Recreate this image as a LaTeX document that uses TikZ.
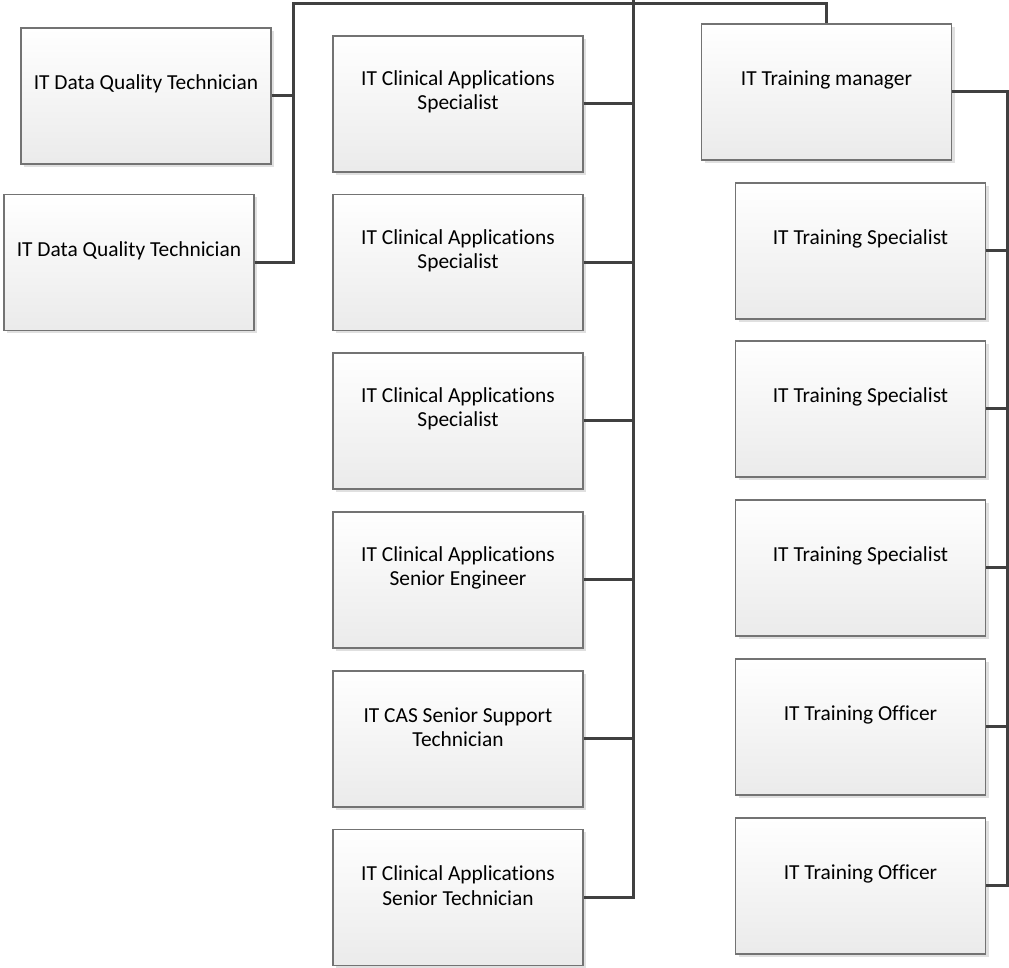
\documentclass[tikz,border=0pt]{standalone}
\usepackage{fontspec}
\setmainfont{Carlito}[Ligatures=NoCommon]
\usepackage{tikz}
\usetikzlibrary{shadows,positioning}

\begin{document}
\begin{tikzpicture}
  [
    x=0.5pt, y=-0.5pt,
    Box/.style={rectangle, draw=black!55, line width=0.6pt, top color=white, bottom color=black!8,
      minimum width=125pt, minimum height=68pt, inner sep=0pt,
      drop shadow={shadow xshift=1.5pt, shadow yshift=-1.5pt, fill=black!12, opacity=1}},
    Txt/.style={align=center, yshift=6pt, font=\fontsize{10.7}{12.2}\selectfont},
    Wire/.style={draw=black!75, line width=1.5pt}
  ]
  \useasboundingbox (0,0) rectangle (1009,968);

  % Nodes
  \node[Box, label={[Txt]center:{IT Data Quality Technician}}] (dq1) at (146, 96) {};
  \node[Box, label={[Txt]center:{IT Data Quality Technician}}] (dq2) at (129, 262.5) {};

  \node[Box, label={[Txt]center:{IT Clinical Applications\\Specialist}}] (cas1) at (458, 104) {};
  \node[Box, label={[Txt]center:{IT Clinical Applications\\Specialist}}] (cas2) at (458, 262.5) {};
  \node[Box, label={[Txt]center:{IT Clinical Applications\\Specialist}}] (cas3) at (458, 421) {};
  \node[Box, label={[Txt]center:{IT Clinical Applications\\Senior Engineer}}] (cas4) at (458, 580) {};
  \node[Box, label={[Txt]center:{IT CAS Senior Support\\Technician}}] (cas5) at (458, 739) {};
  \node[Box, label={[Txt]center:{IT Clinical Applications\\Senior Technician}}] (cas6) at (458, 897.5) {};

  \node[Box, label={[Txt]center:{IT Training manager}}] (tm) at (826.5, 92) {};
  \node[Box, label={[Txt]center:{IT Training Specialist}}] (ts1) at (860.5, 251) {};
  \node[Box, label={[Txt]center:{IT Training Specialist}}] (ts2) at (860.5, 409) {};
  \node[Box, label={[Txt]center:{IT Training Specialist}}] (ts3) at (860.5, 568) {};
  \node[Box, label={[Txt]center:{IT Training Officer}}] (to1) at (860.5, 727) {};
  \node[Box, label={[Txt]center:{IT Training Officer}}] (to2) at (860.5, 886) {};

  % Connectors
  \coordinate (root) at (633, 0);
  \coordinate (bus) at (293, 4);
  \coordinate (rbus) at (1007, 92);

  \draw[Wire] (root) -- (root |- cas6.east) -- (cas6.east);
  \foreach \n in {cas1,cas2,cas3,cas4,cas5}
    \draw[Wire] (\n.east) -- (\n.east -| root);

  \draw[Wire] (dq2.east) -| (bus) -| (tm.north);
  \draw[Wire] (dq1.east) -- (dq1.east -| bus);

  \draw[Wire] (tm.east) -- (rbus) |- (to2.east);
  \foreach \n in {ts1,ts2,ts3,to1}
    \draw[Wire] (\n.east) -- (\n.east -| rbus);

\end{tikzpicture}
\end{document}
